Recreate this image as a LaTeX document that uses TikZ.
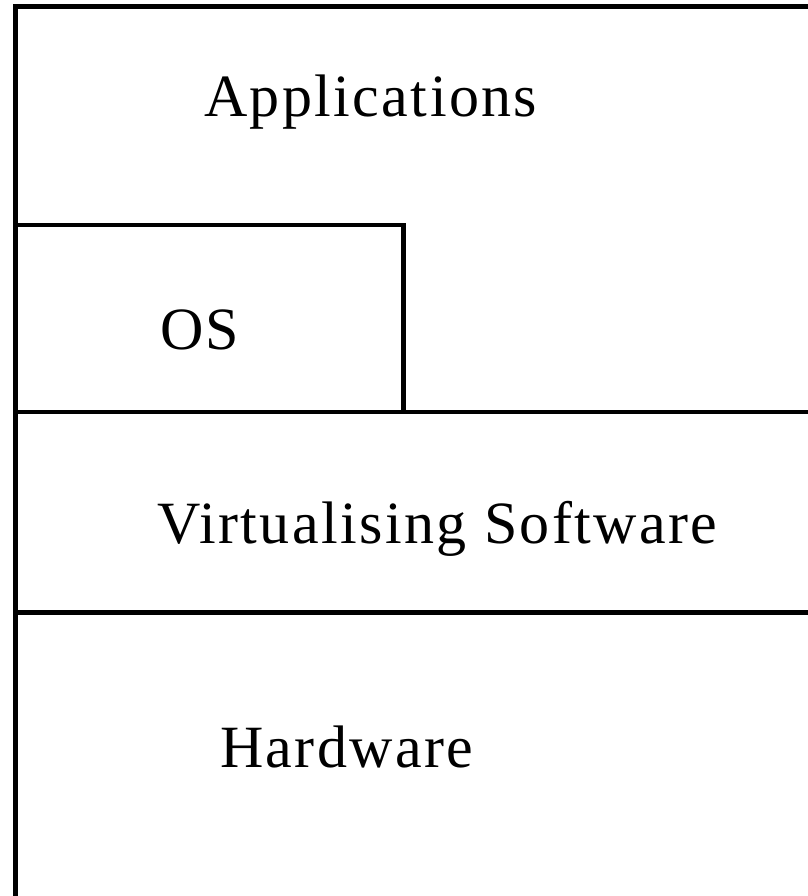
\documentclass[tikz,border=0pt]{standalone}
\usepackage{fontspec}
\setmainfont{Liberation Serif}
\newfontfamily\layerfont[LetterSpace=4]{Liberation Serif}
\begin{document}
\begin{tikzpicture}[x=0.75pt,y=-0.75pt,
  rule/.style={line width=3.5pt,line cap=rect},
  layer/.style={anchor=base west,inner sep=0pt,font=\layerfont\fontsize{45pt}{54pt}\selectfont}]
  \useasboundingbox (0,0) rectangle (807,896);
  % corner points of the layer stack
  \coordinate (tl) at (15.5,6.5);
  \coordinate (tr) at (809,6.5);
  \coordinate (bl) at (15.5,898);
  \coordinate (osl) at (15.5,225);
  \coordinate (osr) at (403.5,225);
  \coordinate (osb) at (403.5,412);
  \coordinate (vl) at (15.5,412);
  \coordinate (vr) at (809,412);
  \coordinate (hl) at (15.5,612.5);
  \coordinate (hr) at (809,612.5);
  % outer frame: top and left edges only
  \draw[rule] (tr) -- (tl) -- (bl);
  % guest OS box inside the application layer
  \draw[rule] (osl) -- (osr) -- (osb);
  % layer separators
  \draw[rule] (vl) -- (vr);
  \draw[rule] (hl) -- (hr);
  % layer labels
  \node[layer] (apps) at (204,116) {Applications};
  \node[layer] (os) at (160,349) {OS};
  \node[layer] (virt) at (157,543) {Virtualising Software};
  \node[layer] (hw) at (220,767) {Hardware};
\end{tikzpicture}
\end{document}
